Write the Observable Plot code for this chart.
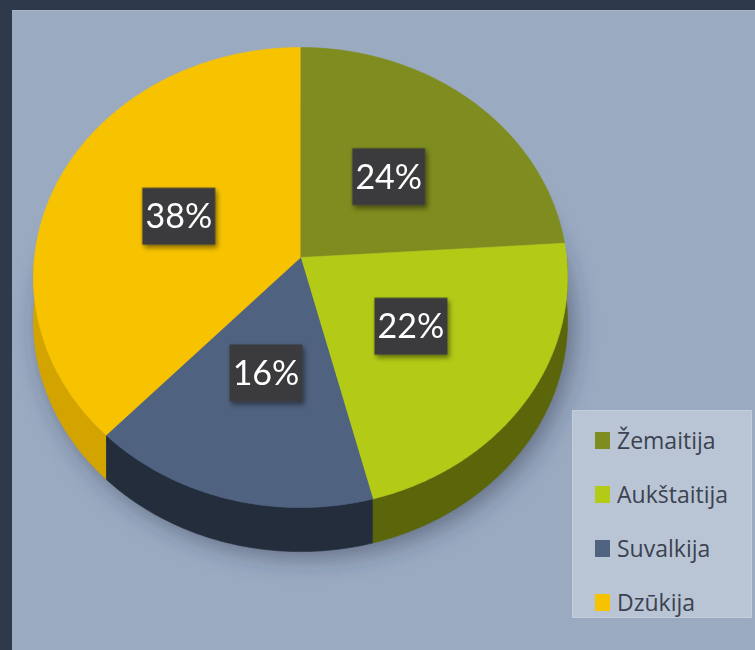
<!DOCTYPE html>
<html>
<head>
<meta charset="utf-8">
<script src="https://cdn.jsdelivr.net/npm/d3@7"></script>
<script src="https://cdn.jsdelivr.net/npm/@observablehq/plot@0.6"></script>
<style>
  html, body { margin: 0; padding: 0; }
  body { width: 755px; height: 650px; overflow: hidden; background: #2e3a4c; }
  #wrap { position: relative; width: 755px; height: 650px; }
  #panel { position: absolute; left: 12px; top: 10px; width: 743px; height: 640px;
           background: #9aaac1; border-top: 1px solid #a9b7ca; box-sizing: border-box; }
  #chart { position: absolute; left: 0; top: 0; }
  #legend { position: absolute; left: 572px; top: 410px; width: 180px; height: 208px;
            background: #b9c5d5; box-sizing: border-box; border: 1px solid #c3cddb;
            font-family: "Open Sans", sans-serif; font-size: 23px; color: #3b4250; }
  .item { position: absolute; left: 22px; height: 30px; display: flex; align-items: center; }
  .sw { width: 15px; height: 17px; margin-right: 7px; }
</style>
</head>
<body>
<div id="wrap">
  <div id="panel"></div>
  <div id="chart"></div>
  <div id="legend"></div>
</div>
<script>
// ---- data ----
const categories = ["Žemaitija", "Aukštaitija", "Suvalkija", "Dzūkija"];
const values = [24, 22, 16, 38];
const labels = values.map(v => `${v}%`);

// ---- styles ----
const topColors = ["#7f8c1f", "#b3cb17", "#4f627f", "#f7c300"];
const wallColors = ["#58620c", "#5b660b", "#232d3c", "#d3a400"];

// ---- geometry (perspective pie) ----
const W = 755, H = 650;
const CX = 300, CY = 257, R = 266, B = 228.3, K = 0.087, D = 44;
function proj(theta, f = 1) {
  const u = Math.sin(theta) * f, v = -Math.cos(theta) * f;
  const w = 1 - K * v;
  return [CX + R * u / w, CY + B * v / w];
}
const total = d3.sum(values);
let acc = 0;
const slices = categories.map((c, i) => {
  const a0 = acc / total * 2 * Math.PI;
  acc += values[i];
  const a1 = acc / total * 2 * Math.PI;
  return {c, i, a0, a1};
});
function arc(a0, a1) {
  const n = Math.max(2, Math.ceil((a1 - a0) / (Math.PI / 360)));
  return d3.range(n + 1).map(j => a0 + (a1 - a0) * j / n);
}
const topRows = [], wallRows = [], shadowRows = [];
for (const s of slices) {
  const [x0, y0] = proj(0, 0);
  topRows.push({key: "t" + s.i, x: x0, y: y0, color: topColors[s.i]});
  for (const t of arc(s.a0, s.a1)) {
    const [x, y] = proj(t);
    topRows.push({key: "t" + s.i, x, y, color: topColors[s.i]});
  }
  const lo = Math.max(s.a0, Math.PI / 2), hi = Math.min(s.a1, 3 * Math.PI / 2);
  if (lo < hi) {
    const ts = arc(lo, hi);
    for (const t of ts) { const [x, y] = proj(t); wallRows.push({key: "w" + s.i, x, y, color: wallColors[s.i]}); }
    for (const t of ts.slice().reverse()) { const [x, y] = proj(t); wallRows.push({key: "w" + s.i, x, y: y + D, color: wallColors[s.i]}); }
  }
}
for (const t of arc(0, 2 * Math.PI)) {
  const [x, y] = proj(t);
  shadowRows.push({x: x + 6, y: y + D + 6});
}
const labelRows = slices.map(s => {
  const [x, y] = proj((s.a0 + s.a1) / 2, 0.5);
  return {x, y, text: labels[s.i]};
});

const boxSymbol = { draw(ctx) { ctx.rect(-36.5, -28.5, 73, 57); } };

const chart = Plot.plot({
  width: W, height: H,
  margin: 0,
  style: {background: "transparent", overflow: "visible"},
  x: {domain: [0, W], range: [0, W], axis: null},
  y: {domain: [0, H], range: [0, H], axis: null},
  marks: [
    Plot.line(shadowRows, {x: "x", y: "y", fill: "#27324a", fillOpacity: 0.5, stroke: "none", ariaDescription: "shadow"}),
    Plot.line(wallRows, {x: "x", y: "y", z: "key", fill: "color", stroke: "color", strokeWidth: 0.6}),
    Plot.line(topRows, {x: "x", y: "y", z: "key", fill: "color", stroke: "color", strokeWidth: 0.6}),
    Plot.dot(labelRows, {x: "x", y: "y", symbol: boxSymbol, fill: "#3b3b3c", stroke: "none", ariaDescription: "labelbox"}),
    Plot.text(labelRows, {x: "x", y: "y", text: "text", fill: "white", fontSize: 34, fontFamily: "Lato, 'Open Sans', sans-serif", dy: 1})
  ]
});

const svg = d3.select(chart);
const defs = svg.insert("defs", ":first-child");
defs.append("filter").attr("id", "blur").attr("x", "-20%").attr("y", "-20%").attr("width", "140%").attr("height", "140%")
  .append("feGaussianBlur").attr("stdDeviation", 12);
const ds = defs.append("filter").attr("id", "ds").attr("x", "-20%").attr("y", "-20%").attr("width", "140%").attr("height", "140%");
ds.append("feDropShadow").attr("dx", 2).attr("dy", 3).attr("stdDeviation", 2.5).attr("flood-color", "#000").attr("flood-opacity", 0.45);
svg.select('g[aria-description="shadow"]').attr("filter", "url(#blur)");
svg.select('g[aria-description="labelbox"]').attr("filter", "url(#ds)");

document.getElementById("chart").appendChild(chart);

// ---- legend ----
const legend = d3.select("#legend");
categories.forEach((c, i) => {
  const item = legend.append("div").attr("class", "item").style("top", `${14 + i * 54}px`);
  item.append("div").attr("class", "sw").style("background", topColors[i]);
  item.append("span").text(c);
});
</script>
</body>
</html>
